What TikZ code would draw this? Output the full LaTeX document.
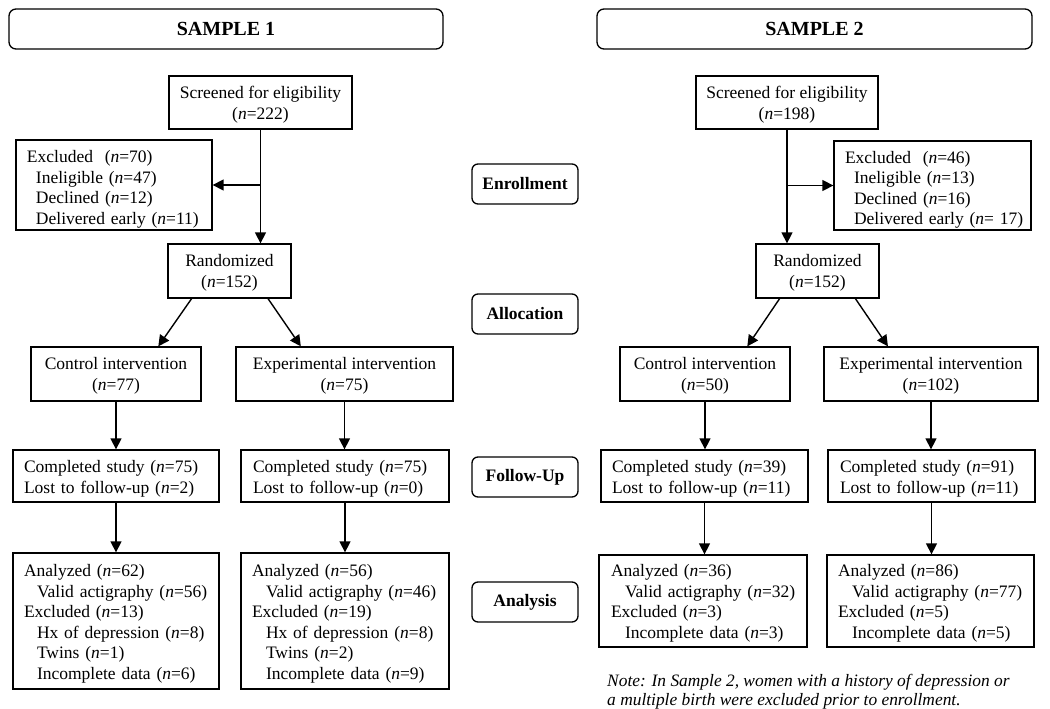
\documentclass[tikz,border=0pt]{standalone}
\usepackage{fontspec}
\setmainfont{Liberation Serif}
\usetikzlibrary{arrows.meta,calc}
\newcommand\vst[1]{\rule{0pt}{#1pt}}
\newcommand\nn{\textit{n}}
\newcommand\ind[1]{\hspace*{#1pt}}
\begin{document}
\begin{tikzpicture}[x=1pt,y=-1pt,
  every node/.style={font=\fontsize{17.5}{20.5}\selectfont},
  box/.style={draw, line width=1.3pt, inner sep=0pt},
  cbox/.style={box, align=center},
  lbox/.style={box, align=left},
  title/.style={draw, line width=1.3pt, rounded corners=7pt, inner sep=0pt, minimum height=40pt, font=\bfseries\fontsize{20}{24}\selectfont},
  stage/.style={draw, line width=1.3pt, rounded corners=6pt, inner sep=0pt, minimum width=106pt, minimum height=40pt, font=\bfseries\fontsize{17.5}{20.5}\selectfont},
  arr/.style={line width=1.4pt, -{Triangle[length=11pt,width=11pt]}},
]
\useasboundingbox (0,0) rectangle (1050,709);

% titles
\node[title, minimum width=434pt] (t1) at (226,29) {SAMPLE 1};
\node[title, minimum width=435pt] (t2) at (814.5,29) {SAMPLE 2};

% stage labels
\node[stage] (s1) at (525,184) {Enrollment};
\node[stage] (s2) at (525,314) {Allocation};
\node[stage] (s3) at (525,477) {Follow-Up};
\node[stage] (s4) at (525,602) {Analysis};

% ---------- Sample 1 ----------
\node[cbox, minimum width=183pt, minimum height=53pt] (scr1) at (260.5,102.5)
  {\vst{17}Screened for eligibility\\(\nn=222)};
\node[lbox, minimum width=196pt, minimum height=90pt, text width=174pt, inner xsep=11pt] (exc1) at (114,185)
  {\vst{21}\mbox{Excluded\ \ (\nn=70)}\\\mbox{\ind{9}Ineligible (\nn=47)}\\\mbox{\ind{9}Declined (\nn=12)}\\\mbox{\ind{9}Delivered early (\nn=11)}};
\node[cbox, minimum width=123pt, minimum height=54pt] (rand1) at (229.5,271)
  {\vst{16}Randomized\\(\nn=152)};
\node[cbox, minimum width=170pt, minimum height=54pt] (ctl1) at (116,374)
  {\vst{16}Control intervention\\(\nn=77)};
\node[cbox, minimum width=217pt, minimum height=54pt] (exp1) at (344.5,374)
  {\vst{16}Experimental intervention\\(\nn=75)};
\node[lbox, minimum width=206pt, minimum height=52pt, text width=184pt, inner xsep=11pt] (cmp1) at (116,476)
  {\vst{18}\mbox{Completed study (\nn=75)}\\\mbox{Lost to follow-up (\nn=2)}};
\node[lbox, minimum width=208pt, minimum height=52pt, text width=184pt, inner xsep=12pt] (cmp2) at (345,476)
  {\vst{18}\mbox{Completed study (\nn=75)}\\\mbox{Lost to follow-up (\nn=0)}};
\node[lbox, minimum width=206pt, minimum height=136pt, text width=184pt, inner xsep=11pt] (ana1) at (116,621)
  {\vst{17.4}\mbox{Analyzed (\nn=62)}\\\mbox{\ind{13}Valid actigraphy (\nn=56)}\\\mbox{Excluded (\nn=13)}\\\mbox{\ind{13}Hx of depression (\nn=8)}\\\mbox{\ind{13}Twins (\nn=1)}\\\mbox{\ind{13}Incomplete data (\nn=6)}};
\node[lbox, minimum width=208pt, minimum height=136pt, text width=186pt, inner xsep=11pt] (ana2) at (345,621)
  {\vst{17.4}\mbox{Analyzed (\nn=56)}\\\mbox{\ind{14}Valid actigraphy (\nn=46)}\\\mbox{Excluded (\nn=19)}\\\mbox{\ind{14}Hx of depression (\nn=8)}\\\mbox{\ind{14}Twins (\nn=2)}\\\mbox{\ind{14}Incomplete data (\nn=9)}};

% ---------- Sample 2 ----------
\node[cbox, minimum width=182pt, minimum height=53pt] (scr2) at (787,102.5)
  {\vst{17}Screened for eligibility\\(\nn=198)};
\node[lbox, minimum width=197pt, minimum height=89pt, text width=175pt, inner xsep=11pt] (exc2) at (932.5,185.5)
  {\vst{21}\mbox{Excluded\ \ (\nn=46)}\\\mbox{\ind{9}Ineligible (\nn=13)}\\\mbox{\ind{9}Declined (\nn=16)}\\\mbox{\ind{9}Delivered early (\nn= 17)}};
\node[cbox, minimum width=123pt, minimum height=54pt] (rand2) at (817.5,271)
  {\vst{16}Randomized\\(\nn=152)};
\node[cbox, minimum width=170pt, minimum height=54pt] (ctl2) at (705,374)
  {\vst{16}Control intervention\\(\nn=50)};
\node[cbox, minimum width=214pt, minimum height=54pt] (exp2) at (931,374)
  {\vst{16}Experimental intervention\\(\nn=102)};
\node[lbox, minimum width=207pt, minimum height=52pt, text width=185pt, inner xsep=11pt] (cmp3) at (704.5,476)
  {\vst{18}\mbox{Completed study (\nn=39)}\\\mbox{Lost to follow-up (\nn=11)}};
\node[lbox, minimum width=207pt, minimum height=52pt, text width=183pt, inner xsep=12pt] (cmp4) at (931.5,476)
  {\vst{18}\mbox{Completed study (\nn=91)}\\\mbox{Lost to follow-up (\nn=11)}};
\node[lbox, minimum width=208pt, minimum height=92pt, text width=184pt, inner xsep=12pt] (ana3) at (703,601)
  {\vst{16.4}\mbox{Analyzed (\nn=36)}\\\mbox{\ind{14}Valid actigraphy (\nn=32)}\\\mbox{Excluded (\nn=3)}\\\mbox{\ind{14}Incomplete data (\nn=3)}};
\node[lbox, minimum width=207pt, minimum height=92pt, text width=185pt, inner xsep=11pt] (ana4) at (930.5,601)
  {\vst{16.4}\mbox{Analyzed (\nn=86)}\\\mbox{\ind{14}Valid actigraphy (\nn=77)}\\\mbox{Excluded (\nn=5)}\\\mbox{\ind{14}Incomplete data (\nn=5)}};

\node[anchor=north west, inner sep=0pt, align=left, font=\itshape\fontsize{17.4}{19.5}\selectfont] (note) at (607,674)
  {Note: In Sample 2, women with a history of depression or\\a multiple birth were excluded prior to enrollment.};

% ---------- connectors Sample 1 ----------
\draw[arr] (scr1.south) -- (scr1.south |- rand1.north);
\draw[arr] (scr1.south |- exc1.east) -- (exc1.east);
\draw[arr] ($(rand1.south west)!0.195!(rand1.south east)$) -- ($(ctl1.north west)!0.747!(ctl1.north east)$);
\draw[arr] ($(rand1.south west)!0.81!(rand1.south east)$) -- ($(exp1.north west)!0.30!(exp1.north east)$);
\draw[arr] (ctl1.south) -- (ctl1.south |- cmp1.north);
\draw[arr] (exp1.south) -- (exp1.south |- cmp2.north);
\draw[arr] (cmp1.south) -- (cmp1.south |- ana1.north);
\draw[arr] (cmp2.south) -- (cmp2.south |- ana2.north);

% ---------- connectors Sample 2 ----------
\draw[arr] (scr2.south) -- (scr2.south |- rand2.north);
\draw[arr] (scr2.south |- exc2.west) -- (exc2.west);
\draw[arr] ($(rand2.south west)!0.195!(rand2.south east)$) -- ($(ctl2.north west)!0.747!(ctl2.north east)$);
\draw[arr] ($(rand2.south west)!0.805!(rand2.south east)$) -- ($(exp2.north west)!0.30!(exp2.north east)$);
\draw[arr] (ctl2.south) -- (ctl2.south |- cmp3.north);
\draw[arr] (exp2.south) -- (exp2.south |- cmp4.north);
\draw[arr] (cmp3.south) -- (cmp3.south |- ana3.north);
\draw[arr] (cmp4.south) -- (cmp4.south |- ana4.north);
\end{tikzpicture}
\end{document}
